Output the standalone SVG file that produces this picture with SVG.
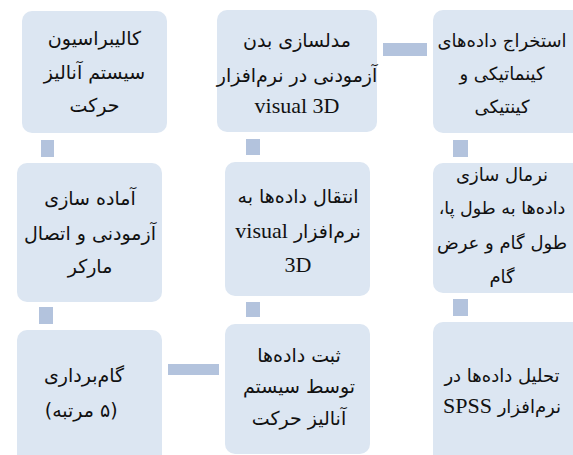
<svg xmlns="http://www.w3.org/2000/svg" width="573" height="455" viewBox="0 0 573 455">
<style>
.box{fill:#dce6f2;}
.con{fill:#b3c3dd;}
text{font-family:"DejaVu Sans","Liberation Serif",serif;font-size:19px;fill:#111111;text-anchor:middle;direction:rtl;}
.lat{font-family:"Liberation Serif",serif;font-size:22px;}
.l{direction:ltr;}
.s{font-size:18px;}
</style>
<rect width="573" height="455" fill="#ffffff"/>
<g id="connectors">
<rect class="con" x="41" y="140" width="13" height="17"/>
<rect class="con" x="39" y="307" width="14" height="17"/>
<rect class="con" x="168" y="364" width="51" height="11"/>
<rect class="con" x="246" y="302" width="14" height="15"/>
<rect class="con" x="246" y="139" width="14" height="16"/>
<rect class="con" x="383" y="43" width="44" height="13"/>
<rect class="con" x="453" y="140" width="15" height="17"/>
<rect class="con" x="453" y="299" width="15" height="17"/>
</g>
<g id="n1">
<rect class="box" x="22" y="11" width="145" height="122" rx="10"/>
<text x="94.5" y="45">کالیبراسیون</text>
<text x="94.5" y="79">سیستم آنالیز</text>
<text x="94.5" y="112">حرکت</text>
</g>
<g id="n2">
<rect class="box" x="217" y="10" width="160" height="122" rx="10"/>
<text x="297" y="47">مدلسازی بدن</text>
<text x="297" y="82">آزمودنی در نرم‌افزار</text>
<text x="297" y="113" class="lat l">visual 3D</text>
</g>
<g id="n3">
<rect class="box" x="433" y="10" width="150" height="123" rx="10"/>
<text x="502" y="47" class="s">استخراج داده‌های</text>
<text x="502" y="80" class="s">کینماتیکی و</text>
<text x="502" y="113" class="s">کینتیکی</text>
</g>
<g id="n4">
<rect class="box" x="17" y="163" width="145" height="139" rx="10"/>
<text x="90" y="205">آماده سازی</text>
<text x="90" y="240">آزمودنی و اتصال</text>
<text x="90" y="273">مارکر</text>
</g>
<g id="n5">
<rect class="box" x="225" y="162" width="145" height="134" rx="10"/>
<text x="298" y="203">انتقال داده‌ها به</text>
<text x="298" y="238">نرم‌افزار <tspan class="lat">visual</tspan></text>
<text x="298" y="272" class="lat l">3D</text>
</g>
<g id="n6">
<rect class="box" x="433" y="163" width="150" height="130" rx="10"/>
<text x="502" y="181" class="s">نرمال سازی</text>
<text x="502" y="214" class="s" style="font-size:17.5px">داده‌ها به طول پا،</text>
<text x="502" y="249" class="s">طول گام و عرض</text>
<text x="502" y="283" class="s">گام</text>
</g>
<g id="n7">
<rect class="box" x="17" y="330" width="145" height="135" rx="10"/>
<text x="84" y="382">گام‌برداری</text>
<text x="94" y="417" class="l" style="text-anchor:end">(مرتبه</text>
<text x="100" y="417" class="l" style="text-anchor:start">۵)</text>
</g>
<g id="n8">
<rect class="box" x="225" y="324" width="145" height="130" rx="10"/>
<text x="299" y="362">ثبت داده‌ها</text>
<text x="299" y="393">توسط سیستم</text>
<text x="299" y="425">آنالیز حرکت</text>
</g>
<g id="n9">
<rect class="box" x="433" y="322" width="150" height="143" rx="10"/>
<text x="502" y="382" class="s">تحلیل داده‌ها در</text>
<text x="502" y="413" class="s">نرم‌افزار <tspan class="lat">SPSS</tspan></text>
</g>
</svg>
